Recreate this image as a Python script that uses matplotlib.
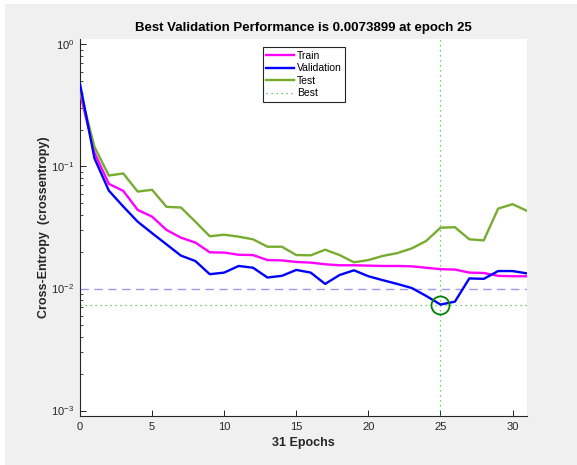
import matplotlib
matplotlib.use("Agg")
import matplotlib.pyplot as plt
from matplotlib.patches import Rectangle
from matplotlib.ticker import LogLocator, FixedLocator
import numpy as np

plt.rcParams['font.family'] = ['Liberation Sans', 'DejaVu Sans']
plt.rcParams['mathtext.default'] = 'regular'

epochs = list(range(32))
train = [0.40, 0.13, 0.0721, 0.0631, 0.0441, 0.0388, 0.0302, 0.0261, 0.0238, 0.0198,
         0.0197, 0.0189, 0.0188, 0.0171, 0.0170, 0.0165, 0.0163, 0.0158, 0.0155, 0.0155,
         0.0154, 0.0153, 0.0153, 0.0152, 0.0148, 0.0144, 0.0143, 0.0135, 0.0134, 0.0127,
         0.0126, 0.0126]
validation = [0.475, 0.117, 0.0634, 0.047, 0.0353, 0.0284, 0.0230, 0.0186, 0.0168, 0.0131,
              0.0135, 0.0153, 0.0148, 0.0123, 0.0127, 0.0142, 0.0135, 0.0109, 0.0129, 0.0141,
              0.0126, 0.0117, 0.0109, 0.0101, 0.0087, 0.0073899, 0.0078, 0.0121, 0.0120, 0.0139,
              0.0139, 0.0133]
test = [0.42, 0.145, 0.0843, 0.0877, 0.0623, 0.0644, 0.0467, 0.0461, 0.0353, 0.0268,
        0.0276, 0.0266, 0.0253, 0.0220, 0.0220, 0.0188, 0.0187, 0.0208, 0.0188, 0.0164,
        0.0171, 0.0185, 0.0195, 0.0213, 0.0245, 0.0315, 0.0318, 0.0253, 0.0248, 0.0452,
        0.0491, 0.0433]
goal = 0.01
best_epoch = 25
best_perf = 0.0073899
xticks = [0, 5, 10, 15, 20, 25, 30]

fig = plt.figure(figsize=(5.77, 4.65), dpi=100, facecolor='white')
fig.patches.append(Rectangle((5/577, 0), 1 - 5/577, 1 - 4/465, transform=fig.transFigure,
                             facecolor='#f0f0f0', edgecolor='none', zorder=-10))

ax = fig.add_axes([80/577, (465-416)/465, 447/577, 377/465])
ax.set_facecolor('white')

ax.plot(epochs, train, color='#ff00ff', lw=1.7, label='Train', zorder=3)
ax.plot(epochs, validation, color='#0000ff', lw=1.7, label='Validation', zorder=4)
ax.plot(epochs, test, color='#77ac30', lw=1.7, label='Test', zorder=3)

ax.axhline(goal, color='#9a9af2', lw=1.0, ls=(0, (6, 4)), zorder=2)
ax.axvline(best_epoch, color='#3cc03c', lw=0.9, ls=(0, (1, 3)), zorder=2, label='Best')
ax.axhline(best_perf, color='#3cc03c', lw=0.9, ls=(0, (1, 3)), zorder=2)
ax.plot([best_epoch], [best_perf], 'o', ms=13, mfc='none', mec='#008000', mew=1.3, zorder=5)

ax.set_yscale('log')
ax.set_xlim(0, 31)
ax.set_ylim(10**(-3.045), 10**0.045)
ax.set_xticks(xticks)
ax.yaxis.set_major_locator(FixedLocator([1e-3, 1e-2, 1e-1, 1e0]))
ax.yaxis.set_minor_locator(LogLocator(base=10, subs=np.arange(2, 10), numticks=20))

for s in ['top', 'right']:
    ax.spines[s].set_visible(False)
for s in ['left', 'bottom']:
    ax.spines[s].set_color('#262626')
    ax.spines[s].set_linewidth(0.8)

ax.tick_params(axis='both', which='major', direction='in', length=4, width=0.7,
               colors='#262626', labelsize=8, pad=4)
ax.tick_params(axis='both', which='minor', direction='in', length=2.5, width=0.6,
               colors='#262626')
ax.tick_params(axis='x', which='minor', bottom=False)

ax.set_title('Best Validation Performance is 0.0073899 at epoch 25', fontsize=9.5,
             fontweight='bold', pad=6, color='black')
ax.set_xlabel('31 Epochs', fontsize=9, fontweight='bold', labelpad=4, color='#262626')
ax.set_ylabel('Cross-Entropy  (crossentropy)', fontsize=9, fontweight='bold', labelpad=1,
              color='#262626')

leg = ax.legend(loc='upper center', bbox_to_anchor=(0.501, 0.979), borderaxespad=0,
                fontsize=7.5, fancybox=False, framealpha=1, edgecolor='#262626',
                handlelength=2.6, handletextpad=0.3, labelspacing=0.25, borderpad=0.35)
leg.get_frame().set_linewidth(0.8)

fig.savefig('out.png', dpi=100, facecolor=fig.get_facecolor())
